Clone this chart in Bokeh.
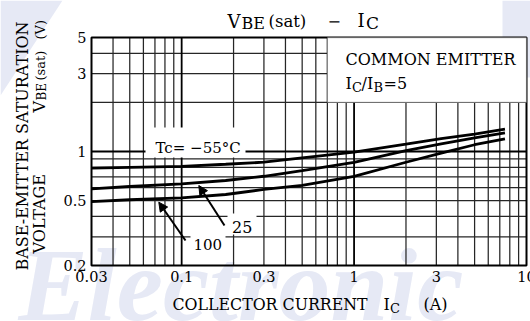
import math
from bokeh.plotting import figure
from bokeh.models import Label, Arrow, NormalHead, BoxAnnotation, PolyAnnotation, Range1d
from bokeh.embed import file_html
from bokeh.resources import INLINE

# ---- data ----
ic = [0.03, 0.05, 0.1, 0.18, 0.3, 0.5, 1, 2, 3.2, 5, 7.5]
vbe_m55 = [0.79, 0.80, 0.81, 0.835, 0.86, 0.915, 0.99, 1.11, 1.20, 1.28, 1.37]
vbe_25 = [0.59, 0.61, 0.634, 0.664, 0.705, 0.764, 0.859, 1.013, 1.114, 1.213, 1.30]
vbe_100 = [0.493, 0.506, 0.52, 0.545, 0.585, 0.62, 0.703, 0.859, 0.977, 1.10, 1.196]

x_ticks = [0.03, 0.1, 0.3, 1, 3, 10]
x_tick_labels = ["0.03", "0.1", "0.3", "1", "3", "10"]
y_ticks = [0.2, 0.5, 1, 3, 5]
y_tick_labels = ["0.2", "0.5", "1", "3", "5"]
x_grid_major = [0.1, 1]
x_grid_minor = [0.04, 0.05, 0.06, 0.07, 0.08, 0.09, 0.2, 0.3, 0.4, 0.5, 0.6, 0.7,
                0.8, 0.9, 2, 3, 4, 5, 6, 7, 8, 9]
y_grid_major = [1]
y_grid_minor = [0.3, 0.4, 0.5, 0.6, 0.7, 0.8, 0.9, 2, 3, 4]
X_LO, X_HI = 0.03, 10
Y_LO, Y_HI = 0.2, 5

# ---- layout (canvas pixels) ----
W, H = 530, 321
PX0, PX1 = 91, 526      # plot box left / right
PY0, PY1 = 37, 265      # plot box top / bottom
FONT = "DejaVu Serif"
SHIFT = 4               # baseline correction for Label text

kx = (PX1 - PX0) / math.log10(X_HI / X_LO)
ky = (PY1 - PY0) / math.log10(Y_HI / Y_LO)
x_range = Range1d(10 ** (math.log10(X_LO) - PX0 / kx), 10 ** (math.log10(X_HI) + (W - PX1) / kx))
y_range = Range1d(10 ** (math.log10(Y_LO) - (H - PY1) / ky), 10 ** (math.log10(Y_HI) + PY0 / ky))

p = figure(width=W, height=H, x_axis_type="log", y_axis_type="log",
           x_range=x_range, y_range=y_range,
           x_axis_location=None, y_axis_location=None,
           output_backend="svg", toolbar_location=None,
           min_border=0, min_border_left=0, min_border_right=0,
           min_border_top=0, min_border_bottom=0)
p.background_fill_color = "white"
p.border_fill_color = "white"
p.outline_line_color = None
p.grid.visible = False


def sy(cy):
    return H - cy


def label(txt, cx, cy, size, angle=0.0, align="left", style="normal", color="black",
          font=FONT, level=None):
    if angle:
        cx -= SHIFT
    else:
        cy -= SHIFT
    lb = Label(x=cx, y=sy(cy), x_units="screen", y_units="screen", text=txt,
               text_font=font, text_font_size=f"{size}px", text_color=color,
               text_align=align, text_baseline="alphabetic", angle=angle,
               text_font_style=style)
    if level:
        lb.level = level
    p.add_layout(lb)


def white_box(l, r, t, b):
    p.add_layout(BoxAnnotation(left=l, right=r, top=sy(t), bottom=sy(b),
                               left_units="screen", right_units="screen",
                               top_units="screen", bottom_units="screen",
                               fill_color="white", fill_alpha=1, line_color=None))


# faint watermark (behind everything)
WM = "#e6e9f5"
wm_rect = BoxAnnotation(left=502, right=530, top=sy(0), bottom=sy(77), left_units="screen",
                        right_units="screen", top_units="screen", bottom_units="screen",
                        fill_color=WM, fill_alpha=1, line_color=None)
wm_rect.level = "image"
p.add_layout(wm_rect)
wm_tri = PolyAnnotation(xs=[0, 62, 0], ys=[sy(0), sy(0), sy(95)], xs_units="screen",
                        ys_units="screen", fill_color=WM, fill_alpha=1, line_color=None)
wm_tri.level = "image"
p.add_layout(wm_tri)
label("Electronic", 18, 288, 104, style="bold italic", color=WM,
      font="Liberation Serif", level="image")

# grid lines
GRID = "#262626"
p.segment(x0=x_grid_minor, y0=[Y_LO] * len(x_grid_minor), x1=x_grid_minor,
          y1=[Y_HI] * len(x_grid_minor), line_color=GRID, line_width=1.25)
p.segment(x0=[X_LO] * len(y_grid_minor), y0=y_grid_minor, x1=[X_HI] * len(y_grid_minor),
          y1=y_grid_minor, line_color=GRID, line_width=1.25)
p.segment(x0=x_grid_major, y0=[Y_LO] * len(x_grid_major), x1=x_grid_major,
          y1=[Y_HI] * len(x_grid_major), line_color="black", line_width=1.8)
p.segment(x0=[X_LO] * len(y_grid_major), y0=y_grid_major, x1=[X_HI] * len(y_grid_major),
          y1=y_grid_major, line_color="black", line_width=1.8)

# curves
for ys in (vbe_m55, vbe_25, vbe_100):
    p.line(ic, ys, line_width=2.8, line_color="black")

# plot frame
p.quad(left=[X_LO], right=[X_HI], bottom=[Y_LO], top=[Y_HI], fill_color=None,
       line_color="black", line_width=2)

# tick labels
p.text(x=x_ticks, y=[Y_LO] * len(x_ticks), text=x_tick_labels, text_align="center",
       text_baseline="top", y_offset=5, text_font={"value": FONT},
       text_font_size="14.5px", text_color="black")
p.text(x=[X_LO] * len(y_ticks), y=y_ticks, text=y_tick_labels, text_align="right",
       text_baseline="middle", x_offset=-5, text_font={"value": FONT},
       text_font_size="14.5px", text_color="black")

# legend box (top right)
p.add_layout(BoxAnnotation(left=0.7, right=10, bottom=2, top=5, fill_color="white",
                           fill_alpha=1, line_color=GRID, line_width=1.25))
label("COMMON EMITTER", 345, 63, 16)
label("I", 345, 87, 16)
label("C", 351.5, 90.5, 13)
label("/", 361, 87, 16)
label("I", 366.5, 87, 16)
label("B", 373, 90.5, 13)
label("=5", 383, 87, 16)

# temperature labels
white_box(145, 245, 127, 157)
label("Tc= \u221255\u00b0C", 155, 151, 15)
white_box(227, 256, 213, 234)
label("25", 231.5, 230, 16)
white_box(190, 225, 234, 252)
label("100", 193, 247.5, 15)

p.add_layout(Arrow(end=NormalHead(size=9, fill_color="black", line_color="black"),
                   x_start=224, y_start=sy(225), x_end=198.3, y_end=sy(185),
                   start_units="screen", end_units="screen", line_width=2, line_color="black"))
p.add_layout(Arrow(end=NormalHead(size=9, fill_color="black", line_color="black"),
                   x_start=185, y_start=sy(240), x_end=158.3, y_end=sy(201.7),
                   start_units="screen", end_units="screen", line_width=2, line_color="black"))

# title
label("V", 227, 25, 18)
label("BE", 241, 26.7, 16)
label("(sat)", 268, 25, 16.5)
label("\u2212", 327, 24, 16)
label("I", 357, 23.5, 18)
label("C", 365.5, 26.7, 17)

# x axis title
label("COLLECTOR CURRENT", 172, 308, 15.8)
label("I", 383, 308, 16)
label("C", 389.5, 312, 13)
label("(A)", 423, 308, 16)

# y axis title (rotated)
rot = math.pi / 2
label("BASE-EMITTER SATURATION", 25.5, 270, 16, angle=rot)
label("VOLTAGE", 43, 253, 16, angle=rot)
label("V", 43, 112, 16, angle=rot)
label("BE", 45, 100, 12, angle=rot)
label("(sat)", 43.5, 80, 13, angle=rot)
label("(V)", 43.5, 39, 13, angle=rot)

open("out.html", "w").write(file_html(p, INLINE))
